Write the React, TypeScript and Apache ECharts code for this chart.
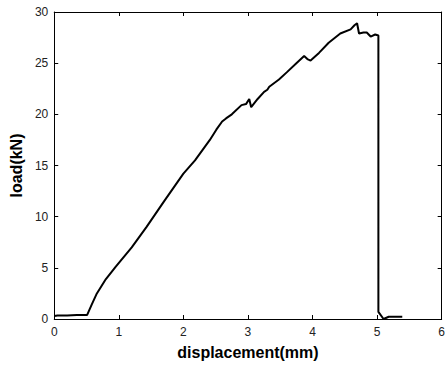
import React, { useEffect, useRef } from "react";
import * as echarts from "echarts";

const displacement = [0, 0.05, 0.2, 0.35, 0.51, 0.58, 0.66, 0.8, 0.95, 1.2, 1.43, 1.7, 2.0, 2.18, 2.41, 2.51, 2.6, 2.66, 2.75, 2.9, 2.97, 3.02, 3.05, 3.15, 3.25, 3.3, 3.33, 3.48, 3.6, 3.75, 3.87, 3.92, 3.97, 4.1, 4.25, 4.43, 4.59, 4.65, 4.69, 4.72, 4.79, 4.84, 4.9, 4.97, 5.02, 5.02, 5.1, 5.18, 5.39];
const load = [0.3, 0.35, 0.35, 0.4, 0.4, 1.4, 2.5, 3.9, 5.1, 7.0, 9.0, 11.5, 14.2, 15.5, 17.5, 18.5, 19.3, 19.6, 20.0, 20.9, 21.0, 21.5, 20.7, 21.5, 22.2, 22.4, 22.7, 23.4, 24.1, 25.0, 25.7, 25.4, 25.25, 26.0, 27.0, 27.9, 28.3, 28.7, 28.9, 27.9, 28.0, 28.0, 27.6, 27.8, 27.7, 0.7, 0.0, 0.22, 0.22];
const xTicks = [0, 1, 2, 3, 4, 5, 6];
const yTicks = [0, 5, 10, 15, 20, 25, 30];

export default function App() {
  const ref = useRef<HTMLDivElement>(null);
  useEffect(() => {
    if (!ref.current) return;
    const chart = echarts.init(ref.current, null, { renderer: "svg" });
    const font = "Liberation Sans, Arial, sans-serif";
    const lineStyle = { color: "#000", width: 1 };
    const baseX = {
      type: "value" as const,
      min: xTicks[0],
      max: xTicks[xTicks.length - 1],
      interval: 1,
      splitLine: { show: false },
      axisLine: { show: true, onZero: false, lineStyle },
      axisTick: { show: true, inside: true, length: 4, lineStyle },
    };
    const baseY = {
      type: "value" as const,
      min: yTicks[0],
      max: yTicks[yTicks.length - 1],
      interval: 5,
      splitLine: { show: false },
      axisLine: { show: true, onZero: false, lineStyle },
      axisTick: { show: true, inside: true, length: 4, lineStyle },
    };
    chart.setOption({
      animation: false,
      backgroundColor: "#fff",
      grid: { left: 53.5, top: 12, right: 4, bottom: 48, containLabel: false },
      xAxis: [
        {
          ...baseX,
          position: "bottom",
          name: "displacement(mm)",
          nameLocation: "middle",
          nameGap: 25,
          nameTextStyle: { fontFamily: font, fontSize: 16, fontWeight: "bold", color: "#000" },
          axisLabel: { fontFamily: font, fontSize: 12, color: "#222", margin: 7 },
        },
        { ...baseX, position: "top", axisLabel: { show: false } },
      ],
      yAxis: [
        {
          ...baseY,
          position: "left",
          name: "load(kN)",
          nameLocation: "middle",
          nameGap: 28,
          nameTextStyle: { fontFamily: font, fontSize: 16, fontWeight: "bold", color: "#000" },
          axisLabel: { fontFamily: font, fontSize: 12, color: "#222", margin: 6 },
        },
        { ...baseY, position: "right", axisLabel: { show: false } },
      ],
      series: [
        {
          type: "line",
          xAxisIndex: 0,
          yAxisIndex: 0,
          data: displacement.map((d, i) => [d, load[i]]),
          showSymbol: false,
          lineStyle: { color: "#000", width: 2 },
        },
      ],
    });
    return () => chart.dispose();
  }, []);
  return (
    <div
      ref={ref}
      style={{ position: "fixed", left: 0, top: 0, width: 448, height: 367, background: "#fff" }}
    />
  );
}
